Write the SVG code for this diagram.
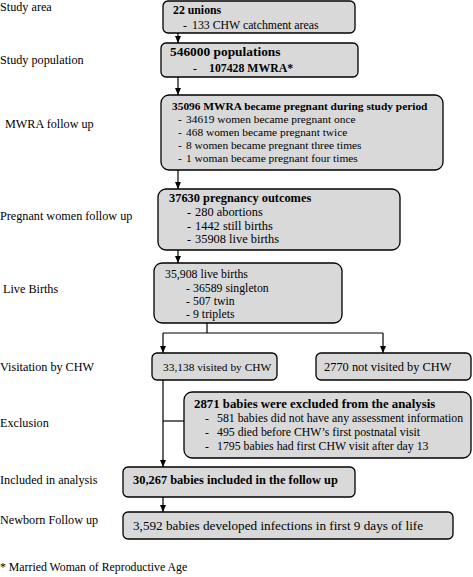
<svg xmlns="http://www.w3.org/2000/svg" width="473" height="577" viewBox="0 0 473 577">
<style>
text{font-family:"Liberation Serif","Times New Roman",serif;fill:#000}
.lab{font-size:12.2px}
.t{font-size:11.8px}
.s{font-size:11.4px}
.m{font-size:12.4px}
.b{font-weight:bold}
.box{fill:#d9d9d9;stroke:#000;stroke-width:1.3}
.ln{fill:none;stroke:#000;stroke-width:1.2}
</style>
<defs>
<marker id="ah" viewBox="0 0 7 7" refX="7" refY="3.5" markerWidth="7" markerHeight="7" markerUnits="userSpaceOnUse" orient="auto">
<path d="M0,0.5 L7,3.5 L0,6.5 Z" fill="#000"/>
</marker>
</defs>
<rect width="473" height="577" fill="#fff"/>
<g id="labels" class="lab">
<text x="0" y="11">Study area</text>
<text x="0" y="64">Study population</text>
<text x="5" y="128">MWRA follow up</text>
<text x="0" y="220">Pregnant women follow up</text>
<text x="3" y="293">Live Births</text>
<text x="0" y="371">Visitation by CHW</text>
<text x="0" y="427">Exclusion</text>
<text x="0" y="484">Included in analysis</text>
<text x="0" y="524">Newborn Follow up</text>
<text x="0" y="571" style="font-size:11.8px">* Married Woman of Reproductive Age</text>
</g>
<g id="connectors" class="ln">
<line x1="178" y1="33" x2="178" y2="43" marker-end="url(#ah)"/>
<line x1="178" y1="77" x2="178" y2="95" marker-end="url(#ah)"/>
<line x1="178" y1="170" x2="178" y2="189" marker-end="url(#ah)"/>
<line x1="178" y1="250" x2="178" y2="263" marker-end="url(#ah)"/>
<polyline points="207,323 207,333"/>
<line x1="163" y1="333" x2="383" y2="333"/>
<line x1="163" y1="333" x2="163" y2="353" marker-end="url(#ah)"/>
<line x1="383" y1="333" x2="383" y2="353" marker-end="url(#ah)"/>
<line x1="163" y1="380" x2="163" y2="467" marker-end="url(#ah)"/>
<line x1="163" y1="421" x2="184" y2="421"/>
<line x1="163" y1="497" x2="163" y2="512" marker-end="url(#ah)"/>
</g>
<g id="n1">
<rect class="box" x="163" y="1" width="192" height="32" rx="5"/>
<text class="t b" x="173" y="14">22 unions</text>
<text class="t" x="183" y="29">-</text><text class="t" x="192" y="29">133 CHW catchment areas</text>
</g>
<g id="n2">
<rect class="box" x="161" y="43" width="197" height="34" rx="5"/>
<text class="b" style="font-size:13.4px" x="170" y="56">546000 populations</text>
<text class="t" x="193" y="72">-</text><text class="t b" x="209" y="72">107428 MWRA*</text>
</g>
<g id="n3">
<rect class="box" x="161" y="95" width="282" height="75" rx="8"/>
<text class="s b" x="172" y="110">35096 MWRA became pregnant during study period</text>
<text class="s" x="178" y="123">-</text><text class="s" x="186" y="123">34619 women became pregnant once</text>
<text class="s" x="178" y="136">-</text><text class="s" x="186" y="136">468 women became pregnant twice</text>
<text class="s" x="178" y="149">-</text><text class="s" x="186" y="149">8 women became pregnant three times</text>
<text class="s" x="178" y="162">-</text><text class="s" x="186" y="162">1 woman became pregnant four times</text>
</g>
<g id="n4">
<rect class="box" x="158" y="189" width="242" height="61" rx="8"/>
<text class="m b" x="169" y="202">37630 pregnancy outcomes</text>
<text class="m" x="187" y="216">-</text><text class="m" x="195" y="216">280 abortions</text>
<text class="m" x="187" y="230">-</text><text class="m" x="195" y="230">1442 still births</text>
<text class="m" x="187" y="243">-</text><text class="m" x="195" y="243">35908 live births</text>
</g>
<g id="n5">
<rect class="box" x="154" y="263" width="188" height="60" rx="8"/>
<text class="t" x="165" y="278">35,908 live births</text>
<text class="t" x="186" y="292">-</text><text class="t" x="193" y="292">36589 singleton</text>
<text class="t" x="186" y="305">-</text><text class="t" x="193" y="305">507 twin</text>
<text class="t" x="186" y="318">-</text><text class="t" x="193" y="318">9 triplets</text>
</g>
<g id="n6">
<rect class="box" x="152" y="353" width="125" height="27" rx="5"/>
<text class="s" x="163" y="371">33,138 visited by CHW</text>
</g>
<g id="n7">
<rect class="box" x="316" y="353" width="155" height="27" rx="5"/>
<text class="m" x="324" y="371">2770 not visited by CHW</text>
</g>
<g id="n8">
<rect class="box" x="184" y="392" width="287" height="66" rx="8"/>
<text class="b" style="font-size:12.8px" x="194" y="408">2871 babies were excluded from the analysis</text>
<text class="t" x="205" y="422">-</text><text class="t" x="217" y="422">581 babies did not have any assessment information</text>
<text class="t" x="205" y="436">-</text><text class="t" x="217" y="436">495 died before CHW’s first postnatal visit</text>
<text class="t" x="205" y="450">-</text><text class="t" x="217" y="450">1795 babies had first CHW visit after day 13</text>
</g>
<g id="n9">
<rect class="box" x="123" y="467" width="232" height="30" rx="5"/>
<text class="m b" x="133" y="484">30,267 babies included in the follow up</text>
</g>
<g id="n10">
<rect class="box" x="123" y="512" width="330" height="27" rx="5"/>
<text style="font-size:13.2px" x="133" y="530">3,592 babies developed infections in first 9 days of life</text>
</g>
</svg>
